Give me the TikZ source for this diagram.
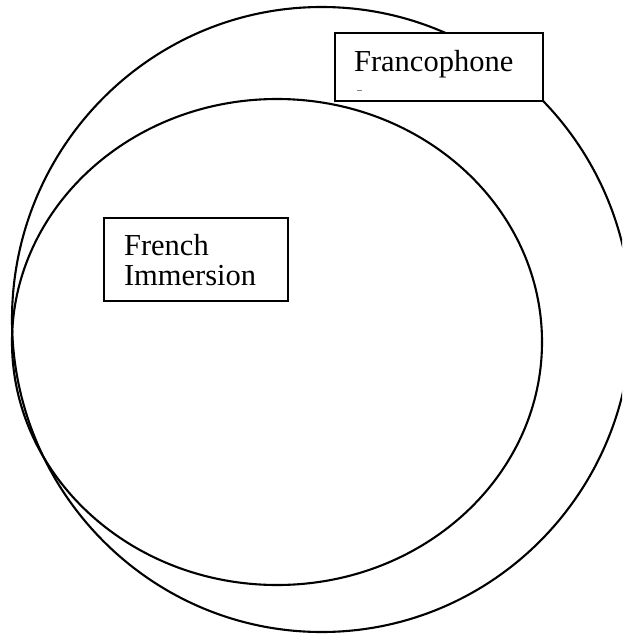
\documentclass[tikz,border=0pt]{standalone}
\usepackage{fontspec}
\setmainfont{Liberation Serif}
\begin{document}
\begin{tikzpicture}[x=1pt,y=-1pt,line width=2.1pt,
  lbl/.style={font=\fontsize{30.5}{30}\selectfont, inner sep=0pt, anchor=base west, align=left},
  box/.style={draw, fill=white, line width=1.6pt, inner sep=0pt, anchor=north west}]
\useasboundingbox (0,0) rectangle (622,634);
\fill[white] (0,0) rectangle (622,634);
\begin{scope}
  \clip (0,0) rectangle (622,634);
  \draw (321.7,319.5) ellipse [x radius=309.7pt, y radius=312.5pt];
\end{scope}
\draw (277,342) ellipse [x radius=265pt, y radius=243pt];
\node[box, minimum width=208pt, minimum height=68pt] (fbox) at (334,32) {};
\node[lbl] (ftext) at (353,71) {Francophone};
\coordinate (d1) at (357,90);
\coordinate (d2) at (362,90);
\draw[line width=0.8pt, gray] (d1) -- (d2);
\node[box, minimum width=184pt, minimum height=83pt] (ibox) at (103,217) {};
\node[lbl] (itext) at (123,285) {French\\Immersion};
\end{tikzpicture}
\end{document}
